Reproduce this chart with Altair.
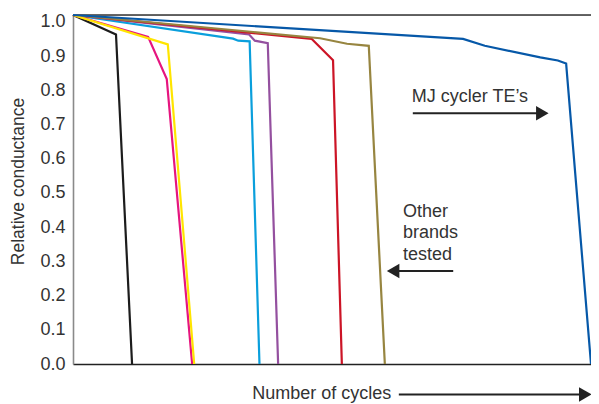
import altair as alt
import pandas as pd

# ---- series (x = number of cycles, relative units; y = relative conductance)
black_x = [0, 8.3, 11.4]
black_y = [1.02, 0.963, 0.0]
magenta_x = [0, 14.5, 18.1, 23.0]
magenta_y = [1.02, 0.956, 0.833, 0.0]
yellow_x = [0, 18.3, 23.4]
yellow_y = [1.02, 0.934, 0.0]
cyan_x = [0, 30.9, 31.9, 34.1, 36.0]
cyan_y = [1.02, 0.951, 0.945, 0.943, 0.0]
purple_x = [0, 34.0, 35.1, 37.6, 39.6]
purple_y = [1.02, 0.963, 0.945, 0.938, 0.0]
red_x = [0, 46.1, 50.2, 51.9]
red_y = [1.02, 0.950, 0.888, 0.0]
olive_x = [0, 47.7, 50.3, 52.9, 57.1, 60.2]
olive_y = [1.02, 0.952, 0.944, 0.936, 0.930, 0.0]
blue_x = [0, 75.3, 79.5, 90.2, 93.6, 95.2, 100.0]
blue_y = [1.02, 0.950, 0.930, 0.896, 0.887, 0.878, 0.0]

series = [
    ("cyan", cyan_x, cyan_y, "#0a9fdc"),
    ("purple", purple_x, purple_y, "#94509f"),
    ("red", red_x, red_y, "#cc1426"),
    ("olive", olive_x, olive_y, "#978540"),
    ("black", black_x, black_y, "#1c1c1c"),
    ("magenta", magenta_x, magenta_y, "#e6157f"),
    ("yellow", yellow_x, yellow_y, "#ffe500"),
    ("blue", blue_x, blue_y, "#0658a8"),
]

y_ticks = [0.0, 0.1, 0.2, 0.3, 0.4, 0.5, 0.6, 0.7, 0.8, 0.9, 1.0]
y_top = 1.02

# ---- annotations
text_labels = ["MJ cycler TE\u2019s", "Other", "brands", "tested", "Number of cycles"]
text_x = [65.4, 63.7, 63.7, 63.7, 34.6]
text_y = [0.780, 0.444, 0.383, 0.319, -0.089]

arrow_x = [65.6, 62.4, 62.9]
arrow_x2 = [90.0, 73.4, 98.3]
arrow_y = [0.733, 0.272, -0.089]
head_x = [90.6, 61.8, 98.9]
head_y = [0.733, 0.272, -0.089]
head_shape = ["triangle-right", "triangle-left", "triangle-right"]

FONT = "Liberation Sans"
TXT = "#333333"

x_enc = alt.X("x:Q", scale=alt.Scale(domain=[0, 100], nice=False, zero=False),
              axis=alt.Axis(labels=False, ticks=False, grid=False, title=None,
                            domainColor="#222222", domainWidth=1.6))
y_enc = alt.Y("y:Q", scale=alt.Scale(domain=[0, y_top], nice=False),
              axis=alt.Axis(values=y_ticks, format=".1f", ticks=False, grid=False,
                            labelFontSize=18, labelColor=TXT, labelPadding=8,
                            labelFont=FONT,
                            domainColor="#8a8a8a", domainWidth=1.6,
                            title="Relative conductance", titleFont=FONT,
                            titleFontSize=17.5, titleFontWeight="normal",
                            titleColor=TXT, titleAngle=270, titleX=-55, titleY=166,
                            titleAlign="center", titleBaseline="middle"))

layers = []
for name, xs, ys, col in series:
    df = pd.DataFrame({"x": xs, "y": ys})
    layers.append(
        alt.Chart(df).mark_line(color=col, strokeWidth=2.2, strokeJoin="miter",
                                clip=False).encode(x=x_enc, y=y_enc)
    )

top_line = alt.Chart(pd.DataFrame({"x": [0], "x2": [100], "y": [y_top]})).mark_rule(
    color="#333333", strokeWidth=1.6).encode(x=x_enc, x2="x2:Q", y=y_enc)

texts = alt.Chart(pd.DataFrame({"x": text_x, "y": text_y, "t": text_labels})).mark_text(
    align="left", baseline="middle", font=FONT, fontSize=18, color=TXT
).encode(x=x_enc, y=y_enc, text="t:N")

arrows = alt.Chart(pd.DataFrame({"x": arrow_x, "x2": arrow_x2, "y": arrow_y})).mark_rule(
    color="#222222", strokeWidth=2
).encode(x=x_enc, x2="x2:Q", y=y_enc)

heads = alt.Chart(pd.DataFrame({"x": head_x, "y": head_y, "s": head_shape})).mark_point(
    filled=True, color="#222222", size=210, opacity=1, strokeWidth=0
).encode(x=x_enc, y=y_enc, shape=alt.Shape("s:N", scale=None))

chart = alt.layer(top_line, *layers, arrows, heads, texts).properties(
    width=518, height=349,
    autosize=alt.AutoSizeParams(type="none"),
    padding={"left": 65, "top": 7, "right": 0, "bottom": 42},
    background="white",
).configure_view(stroke=None).configure(font=FONT)

chart.save("out.html", embed_options={"renderer": "svg", "actions": False})
